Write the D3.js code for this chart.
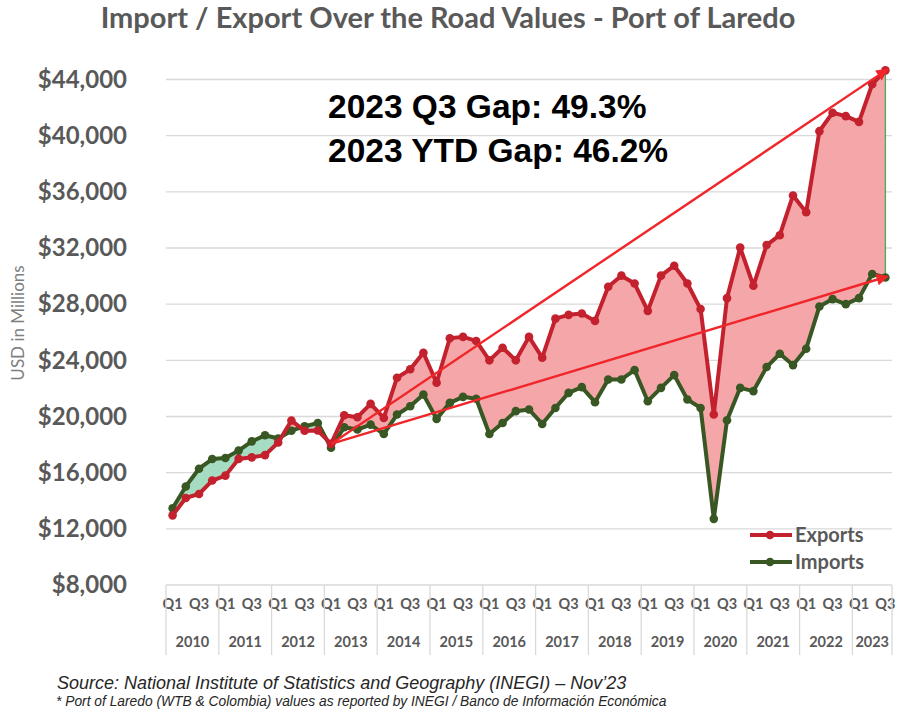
<!DOCTYPE html>
<html>
<head>
<meta charset="utf-8">
<script src="https://cdn.jsdelivr.net/npm/d3@7"></script>
<style>
  body { margin: 0; background: #fff; }
  svg { display: block; }
</style>
</head>
<body>
<svg id="chart" width="900" height="720"></svg>
<script>
const years = [2010, 2011, 2012, 2013, 2014, 2015, 2016, 2017, 2018, 2019, 2020, 2021, 2022, 2023];
const quarterNames = ["Q1", "Q2", "Q3", "Q4"];
const shownQuarters = ["Q1", "Q3"];
const yTicks = [8000, 12000, 16000, 20000, 24000, 28000, 32000, 36000, 40000, 44000];

// quarterly values, USD millions, 2010 Q1 .. 2023 Q3
const exportsVals = [
  12960, 14200, 14480, 15440,
  15790, 16980, 17090, 17250,
  18150, 19710, 18990, 19000,
  18050, 20090, 19950, 20900,
  19900, 22760, 23360, 24540,
  22400, 25570, 25670, 25380,
  24000, 24900, 24000, 25670,
  24190, 26970, 27240, 27330,
  26810, 29240, 30030, 29470,
  27520, 30030, 30740, 29470,
  27650, 20140, 28430, 32030,
  29310, 32210, 32910, 35740,
  34550, 40320, 41630, 41390,
  40980, 43660, 44650
];
const importsVals = [
  13460, 15020, 16280, 16970,
  17040, 17570, 18230, 18660,
  18430, 18990, 19300, 19540,
  17780, 19230, 19070, 19420,
  18750, 20140, 20730, 21570,
  19830, 20970, 21400, 21260,
  18750, 19540, 20380, 20500,
  19470, 20610, 21680, 22090,
  21020, 22640, 22640, 23300,
  21090, 22040, 22950, 21210,
  20610, 12710, 19730, 22040,
  21810, 23520, 24470, 23660,
  24830, 27830, 28360, 28000,
  28430, 30150, 29900
];
const gapLabels = ["2023 Q3 Gap: 49.3%", "2023 YTD Gap: 46.2%"];
const arrowStartIndex = 12; // 2013 Q1

// category list: year + quarter (2023 only up to Q3)
const categories = [];
years.forEach(yr => {
  quarterNames.forEach(q => {
    if (categories.length < exportsVals.length) categories.push({ id: yr + "-" + q, year: yr, q: q });
  });
});
const data = categories.map((c, i) => ({ ...c, exp: exportsVals[i], imp: importsVals[i] }));

const svg = d3.select("#chart");
const greyText = "#595959";
const redLine = "#C3212D";
const greenLine = "#385723";
const arrowRed = "#F0262A";

const plotLeft = 166, plotRight = 892, plotTop = 79.5, plotBottom = 585;

const x = d3.scaleBand()
  .domain(categories.map(c => c.id))
  .range([plotLeft, plotRight]);
const cx = id => x(id) + x.bandwidth() / 2;

const y = d3.scaleLinear()
  .domain([8000, 44000])
  .range([plotBottom, plotTop]);

// title
svg.append("text")
  .attr("x", 448).attr("y", 28)
  .attr("text-anchor", "middle")
  .style("font-family", "Lato, 'Open Sans', sans-serif")
  .style("font-weight", 700)
  .style("font-size", "29px")
  .style("fill", greyText)
  .text("Import / Export Over the Road Values - Port of Laredo");

// gridlines
svg.append("g").selectAll("line")
  .data(yTicks)
  .join("line")
  .attr("x1", plotLeft).attr("x2", plotRight)
  .attr("y1", d => y(d)).attr("y2", d => y(d))
  .attr("stroke", "#d9d9d9")
  .attr("stroke-width", 1.3);

// y axis labels
const yAxis = svg.append("g")
  .attr("transform", `translate(${plotLeft},0)`)
  .call(d3.axisLeft(y).tickValues(yTicks).tickFormat(d3.format("$,")).tickSize(0).tickPadding(39));
yAxis.select(".domain").remove();
yAxis.selectAll("text")
  .style("font-family", "Lato, 'Open Sans', sans-serif")
  .style("font-weight", 700)
  .style("font-size", "24px")
  .style("fill", greyText);

svg.append("text")
  .attr("transform", "translate(24,323) rotate(-90)")
  .attr("text-anchor", "middle")
  .style("font-family", "Lato, 'Open Sans', sans-serif")
  .style("font-size", "17px")
  .style("fill", "#7f7f7f")
  .text("USD in Millions");

// x axis: quarter labels
const xAxis = svg.append("g")
  .attr("transform", `translate(0,${plotBottom})`)
  .call(d3.axisBottom(x)
    .tickValues(categories.filter(c => shownQuarters.includes(c.q)).map(c => c.id))
    .tickFormat(id => id.split("-")[1])
    .tickSize(0).tickPadding(14));
xAxis.select(".domain").remove();
xAxis.selectAll("text")
  .style("font-family", "Lato, 'Open Sans', sans-serif")
  .style("font-weight", 700)
  .style("font-size", "14.5px")
  .style("fill", greyText);

// year labels and separators
const yearGroups = d3.groups(categories, c => c.year);
svg.append("g").selectAll("text")
  .data(yearGroups)
  .join("text")
  .attr("x", d => (x(d[1][0].id) + x(d[1][d[1].length - 1].id) + x.bandwidth()) / 2)
  .attr("y", 647)
  .attr("text-anchor", "middle")
  .style("font-family", "Lato, 'Open Sans', sans-serif")
  .style("font-weight", 700)
  .style("font-size", "14.5px")
  .style("fill", greyText)
  .text(d => d[0]);

const sepX = yearGroups.map(d => x(d[1][0].id)).concat([plotRight]);
svg.append("g").selectAll("line")
  .data(sepX)
  .join("line")
  .attr("x1", d => d).attr("x2", d => d)
  .attr("y1", plotBottom).attr("y2", 655)
  .attr("stroke", "#d9d9d9")
  .attr("stroke-width", 1.3);

// difference fill
const defs = svg.append("defs");
defs.append("clipPath").attr("id", "below-exp")
  .append("path")
  .attr("d", d3.area().x(d => cx(d.id)).y0(plotBottom + 40).y1(d => y(d.exp))(data));
defs.append("clipPath").attr("id", "below-imp")
  .append("path")
  .attr("d", d3.area().x(d => cx(d.id)).y0(plotBottom + 40).y1(d => y(d.imp))(data));

svg.append("path")
  .attr("clip-path", "url(#below-exp)")
  .attr("fill", "#F4A6A9")
  .attr("d", d3.area().x(d => cx(d.id)).y0(d => y(d.imp)).y1(0)(data));
svg.append("path")
  .attr("clip-path", "url(#below-imp)")
  .attr("fill", "#A6DCC1")
  .attr("d", d3.area().x(d => cx(d.id)).y0(d => y(d.exp)).y1(0)(data));

// closing edge at the last quarter
const last = data[data.length - 1];
svg.append("line")
  .attr("x1", cx(last.id)).attr("x2", cx(last.id))
  .attr("y1", y(last.exp)).attr("y2", y(last.imp))
  .attr("stroke", "#3fae5a")
  .attr("stroke-width", 1.3);

// series lines + markers
const series = [
  { key: "imp", color: greenLine },
  { key: "exp", color: redLine }
];
series.forEach(s => {
  svg.append("path")
    .datum(data)
    .attr("fill", "none")
    .attr("stroke", s.color)
    .attr("stroke-width", 4)
    .attr("stroke-linejoin", "round")
    .attr("d", d3.line().x(d => cx(d.id)).y(d => y(d[s.key])));
  svg.append("g").selectAll("circle")
    .data(data)
    .join("circle")
    .attr("cx", d => cx(d.id))
    .attr("cy", d => y(d[s.key]))
    .attr("r", 4.3)
    .attr("fill", s.color);
});

// trend arrows
defs.append("marker")
  .attr("id", "arrowhead")
  .attr("viewBox", "0 0 10 10")
  .attr("refX", 9).attr("refY", 5)
  .attr("markerUnits", "userSpaceOnUse")
  .attr("markerWidth", 15).attr("markerHeight", 12)
  .attr("orient", "auto")
  .append("path")
  .attr("d", "M0,0 L10,5 L0,10 z")
  .attr("fill", arrowRed);

const start = data[arrowStartIndex];
["exp", "imp"].forEach(k => {
  svg.append("line")
    .attr("x1", cx(start.id)).attr("y1", y(start.exp))
    .attr("x2", cx(last.id) + 2).attr("y2", y(last[k]) - 1)
    .attr("stroke", arrowRed)
    .attr("stroke-width", 2.4)
    .attr("marker-end", "url(#arrowhead)");
});

// gap annotation
svg.append("g").selectAll("text")
  .data(gapLabels)
  .join("text")
  .attr("x", 328)
  .attr("y", (d, i) => 118 + i * 44)
  .style("font-family", "'Liberation Sans', Arial, sans-serif")
  .style("font-weight", 700)
  .style("font-size", "33.5px")
  .style("fill", "#000")
  .text(d => d);

// legend
const legend = svg.append("g").selectAll("g")
  .data([{ label: "Exports", color: redLine }, { label: "Imports", color: greenLine }])
  .join("g")
  .attr("transform", (d, i) => `translate(750,${535 + i * 27})`);
legend.append("line")
  .attr("x1", 0).attr("x2", 42)
  .attr("stroke", d => d.color)
  .attr("stroke-width", 4);
legend.append("circle")
  .attr("cx", 20).attr("r", 4.3)
  .attr("fill", d => d.color);
legend.append("text")
  .attr("x", 45).attr("dy", "0.35em")
  .style("font-family", "Lato, 'Open Sans', sans-serif")
  .style("font-weight", 700)
  .style("font-size", "20px")
  .style("fill", greyText)
  .text(d => d.label);

// source notes
svg.append("text")
  .attr("x", 57).attr("y", 689)
  .style("font-family", "'Liberation Sans', Arial, sans-serif")
  .style("font-style", "italic")
  .style("font-size", "18px")
  .style("fill", "#262626")
  .text("Source: National Institute of Statistics and Geography (INEGI) \u2013 Nov\u201923");
svg.append("text")
  .attr("x", 56).attr("y", 706)
  .style("font-family", "'Liberation Sans', Arial, sans-serif")
  .style("font-style", "italic")
  .style("font-size", "13.8px")
  .style("fill", "#262626")
  .text("* Port of Laredo (WTB & Colombia) values as reported by INEGI / Banco de Informaci\u00f3n Econ\u00f3mica");
</script>
</body>
</html>
